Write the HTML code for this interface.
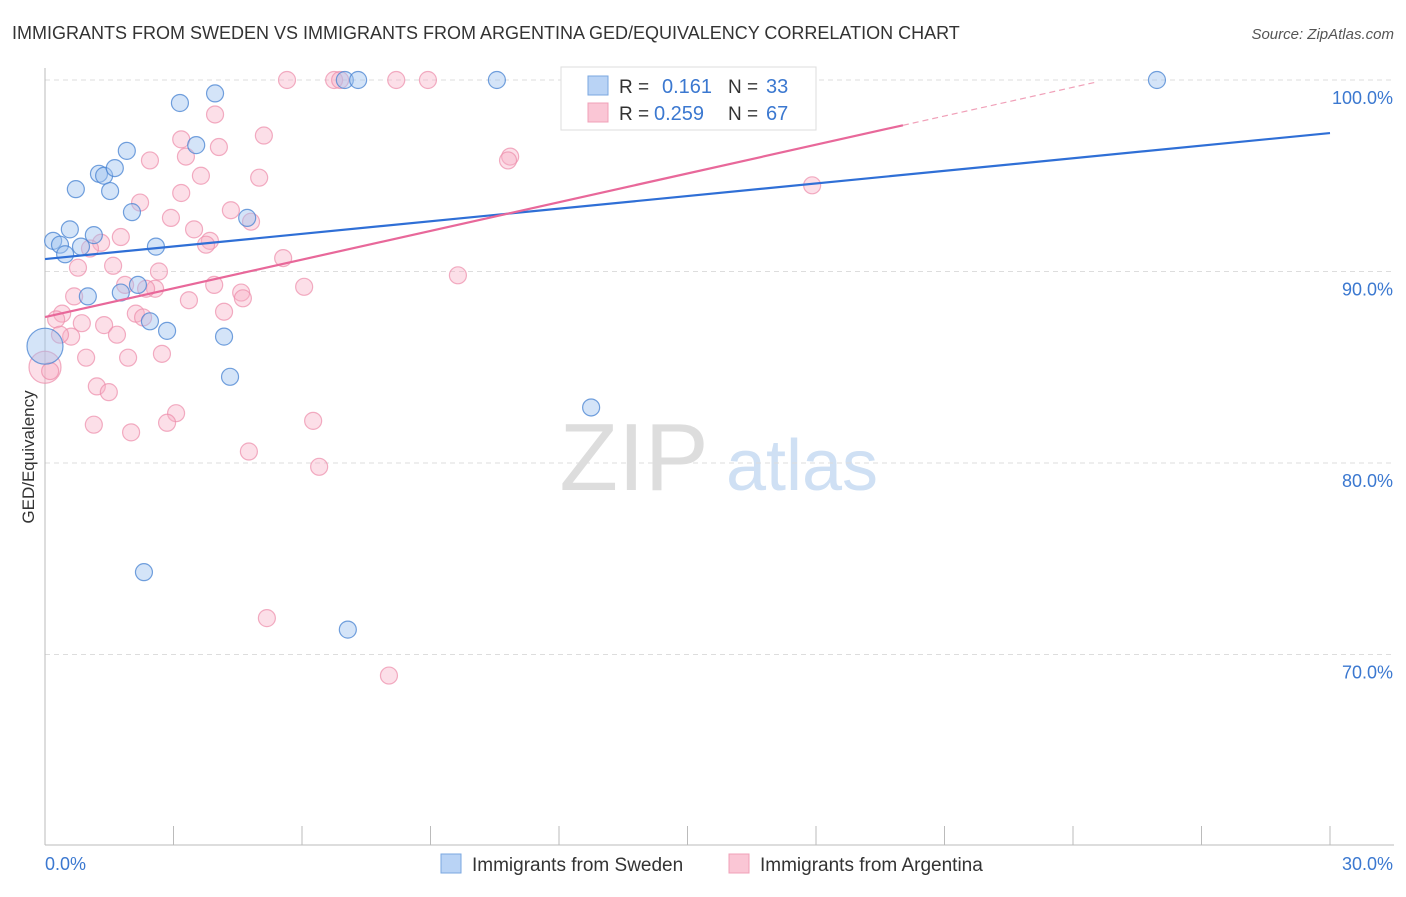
<!DOCTYPE html>
<html><head><meta charset="utf-8"><style>
body{margin:0;background:#fff;font-family:"Liberation Sans",sans-serif;}
svg text{font-family:"Liberation Sans",sans-serif;}
</style></head><body>
<svg width="1406" height="892" xmlns="http://www.w3.org/2000/svg" id="chart">
<text x="12" y="39" font-size="18" fill="#333">IMMIGRANTS FROM SWEDEN VS IMMIGRANTS FROM ARGENTINA GED/EQUIVALENCY CORRELATION CHART</text>
<text x="1394" y="39" font-size="15" fill="#555" font-style="italic" text-anchor="end">Source: ZipAtlas.com</text>
<g>
<text x="634" y="490" font-size="96" fill="#ddd" font-family="Liberation Serif" text-anchor="middle">ZIP</text>
<text x="802" y="490" font-size="72" fill="#cfe0f4" text-anchor="middle">atlas</text>
</g>
<g id="grid"></g>
<g id="axes"></g>
<g id="marks"></g>
<text transform="translate(34,457) rotate(-90)" font-size="17" fill="#333" text-anchor="middle">GED/Equivalency</text>
<g>
<rect x="561" y="67" width="255" height="63" fill="#fff" stroke="#ddd"/>
<rect x="588" y="76" width="20" height="19" fill="#b9d3f5" stroke="#7aa7e0"/>
<rect x="588" y="103" width="20" height="19" fill="#fac6d5" stroke="#f0a0b8"/>
<text x="619" y="93" font-size="19" fill="#333">R = </text><text x="662" y="93" font-size="20" fill="#3b78d0">0.161</text>
<text x="728" y="93" font-size="19" fill="#333">N = </text><text x="766" y="93" font-size="20" fill="#3b78d0">33</text>
<text x="619" y="120" font-size="19" fill="#333">R = </text><text x="654" y="120" font-size="20" fill="#3b78d0">0.259</text>
<text x="728" y="120" font-size="19" fill="#333">N = </text><text x="766" y="120" font-size="20" fill="#3b78d0">67</text>
</g>
<g>
<rect x="441" y="854" width="20" height="19" fill="#b9d3f5" stroke="#7aa7e0"/>
<text x="472" y="871" font-size="19" fill="#333">Immigrants from Sweden</text>
<rect x="729" y="854" width="20" height="19" fill="#fac6d5" stroke="#f0a0b8"/>
<text x="760" y="871" font-size="19" fill="#333">Immigrants from Argentina</text>
</g>
</svg>
<script>
const yTicks=[100,90,80,70];
const yTickLabels=["100.0%","90.0%","80.0%","70.0%"];
const xTicks=[0,3,6,9,12,15,18,21,24,27,30];
const swedenX=[0.19,0.35,0.47,0.58,0.72,0.84,1.00,1.14,1.26,1.38,1.52,1.63,1.77,1.91,2.03,2.17,2.45,2.59,2.85,3.15,3.53,3.97,4.18,4.32,4.72,2.31,7.07,7.00,7.31,10.55,12.75,25.96,0.0];
const swedenY=[91.6,91.4,90.9,92.2,94.3,91.3,88.7,91.9,95.1,95.0,94.2,95.4,88.9,96.3,93.1,89.3,87.4,91.3,86.9,98.8,96.6,99.3,86.6,84.5,92.8,74.3,71.3,100,100,100,82.9,100,86.1];
const argX=[5.65,6.75,6.89,8.20,8.94,3.97,5.11,3.18,4.06,3.29,2.45,10.86,10.81,3.64,5.00,3.18,2.22,4.34,2.94,4.81,3.48,1.77,3.85,3.76,1.31,1.05,0.77,1.59,2.66,5.56,9.64,3.95,6.05,1.87,2.57,2.36,4.58,4.62,3.36,0.68,4.18,0.40,0.26,0.86,2.12,2.29,1.38,1.68,0.61,2.73,0.96,1.94,0,1.21,1.49,3.06,2.85,1.14,2.01,6.26,4.76,6.40,17.91,5.18,8.03,0.35,0.12];
const argY=[100,100,100,100,100,98.2,97.1,96.9,96.5,96.0,95.8,96.0,95.8,95.0,94.9,94.1,93.6,93.2,92.8,92.6,92.2,91.8,91.6,91.4,91.5,91.2,90.2,90.3,90.0,90.7,89.8,89.3,89.2,89.3,89.1,89.1,88.9,88.6,88.5,88.7,87.9,87.8,87.5,87.3,87.8,87.6,87.2,86.7,86.6,85.7,85.5,85.5,85.0,84.0,83.7,82.6,82.1,82.0,81.6,82.2,80.6,79.8,94.5,71.9,68.9,86.7,84.8];
const swedenTrend=[90.65,97.23];
const argTrend=[87.62,0.5];

const NS="http://www.w3.org/2000/svg";
const sx=v=>45+v/30*1285;
const sy=v=>80+(100-v)*19.15;
function mk(tag,attrs,parent){const e=document.createElementNS(NS,tag);for(const k in attrs)e.setAttribute(k,attrs[k]);document.getElementById(parent).appendChild(e);return e;}
yTicks.forEach((t,i)=>{
  const g=mk('line',{x1:45,x2:1394,y1:sy(t),y2:sy(t),stroke:'#ddd','stroke-dasharray':'5,4'},'grid');
  
  
  const l=mk('text',{x:1393,y:sy(t)+24,'font-size':18,fill:'#3b78d0','text-anchor':'end'},'axes');
  l.textContent=yTickLabels[i];
  
  
});
const ax=mk('line',{x1:45,x2:45,y1:68,y2:845,stroke:'#bbb'},'axes');


const bx=mk('line',{x1:45,x2:1394,y1:845,y2:845,stroke:'#bbb'},'axes');


xTicks.forEach(t=>{
  const k=mk('line',{x1:sx(t),x2:sx(t),y1:826,y2:845,stroke:'#bbb'},'axes');
  
  
});
const x0=mk('text',{x:45,y:870,'font-size':18,fill:'#3b78d0'},'axes');x0.textContent='0.0%';


const x1=mk('text',{x:1393,y:870,'font-size':18,fill:'#3b78d0','text-anchor':'end'},'axes');x1.textContent='30.0%';



argX.forEach((x,i)=>{
  const big=(x===0);
  const c=mk('circle',{cx:sx(x),cy:sy(argY[i]),r:big?16:8.5,fill:'rgba(248,175,198,0.4)',stroke:'rgba(236,140,170,0.7)','stroke-width':1.2},'marks');
  
  
});
swedenX.forEach((x,i)=>{
  const big=(x===0);
  const c=mk('circle',{cx:sx(x),cy:sy(swedenY[i]),r:big?18:8.5,fill:'rgba(160,196,240,0.45)',stroke:'rgba(70,130,210,0.75)','stroke-width':1.2},'marks');
  
  
});
const bl=mk('line',{x1:sx(0),y1:sy(swedenTrend[0]),x2:sx(30),y2:sy(swedenTrend[1]),stroke:'#2f6fd6','stroke-width':2.2},'marks');


const pe=20.03, pd=24.5;
const pl=mk('line',{x1:sx(0),y1:sy(argTrend[0]),x2:sx(pe),y2:sy(argTrend[0]+argTrend[1]*pe),stroke:'#e8689a','stroke-width':2.2},'marks');


const pdl=mk('line',{x1:sx(pe),y1:sy(argTrend[0]+argTrend[1]*pe),x2:sx(pd),y2:sy(argTrend[0]+argTrend[1]*pd),stroke:'#f0a0b8','stroke-width':1.2,'stroke-dasharray':'6,4'},'marks');


</script>
</body></html>
